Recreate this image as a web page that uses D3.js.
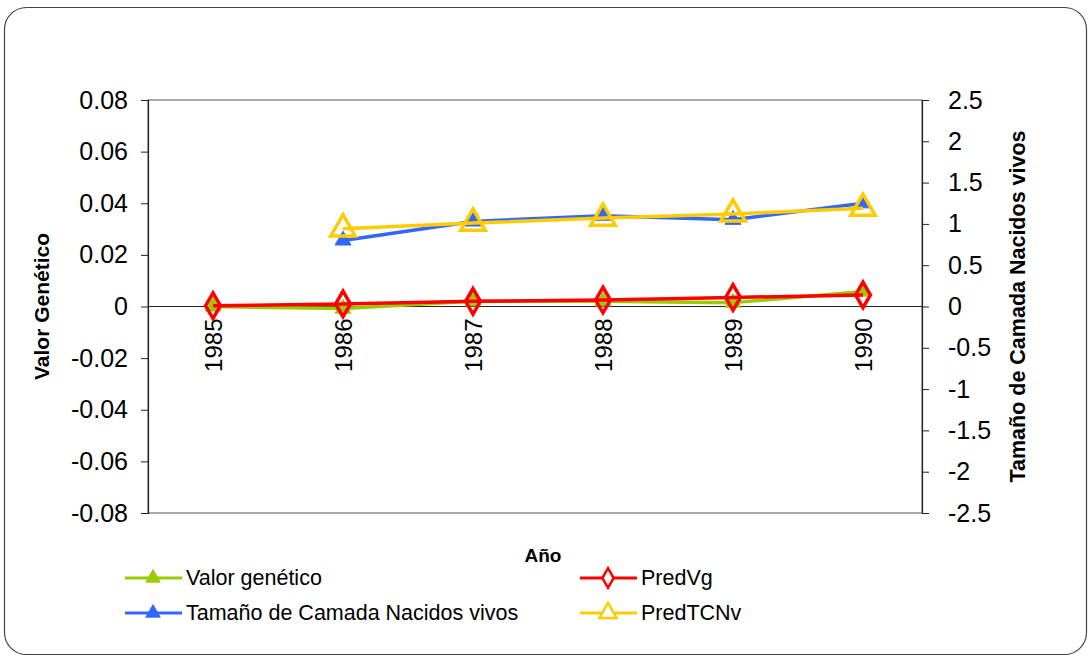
<!DOCTYPE html>
<html>
<head>
<meta charset="utf-8">
<script src="https://cdn.jsdelivr.net/npm/d3@7"></script>
<style>
  html, body { margin: 0; padding: 0; background: #fff; }
  svg { display: block; font-family: "Liberation Sans", Arial, sans-serif; }
</style>
</head>
<body>
<svg id="chart" width="1090" height="658"></svg>
<script>
// Years on the category axis
const years = ["1985", "1986", "1987", "1988", "1989", "1990"];

// Left axis series (genetic value)
const valorGenetico = [0.0000, -0.0008, 0.0020, 0.0020, 0.0015, 0.0058];
const predVg        = [0.0003, 0.0010, 0.0020, 0.0025, 0.0035, 0.0045];

// Right axis series (litter size born alive); no value for 1985
const tamanoCamada = [null, 0.80, 1.03, 1.10, 1.05, 1.25];
const predTCNv     = [null, 0.94, 1.01, 1.07, 1.12, 1.19];

// Tick labels
const leftTicks  = [-0.08, -0.06, -0.04, -0.02, 0, 0.02, 0.04, 0.06, 0.08];
const leftLabels = ["-0.08", "-0.06", "-0.04", "-0.02", "0", "0.02", "0.04", "0.06", "0.08"];
const rightTicks  = [-2.5, -2, -1.5, -1, -0.5, 0, 0.5, 1, 1.5, 2, 2.5];
const rightLabels = ["-2.5", "-2", "-1.5", "-1", "-0.5", "0", "0.5", "1", "1.5", "2", "2.5"];

const FONT = "'Liberation Sans', Arial, sans-serif";
const svg = d3.select("#chart");

// Outer rounded frame
svg.append("rect")
  .attr("x", 4.5).attr("y", 7.5)
  .attr("width", 1082).attr("height", 647)
  .attr("rx", 22).attr("ry", 22)
  .attr("fill", "#fff")
  .attr("stroke", "#444").attr("stroke-width", 1.2);

const plot = { left: 148, right: 922, top: 100, bottom: 513 };

const x = d3.scalePoint().domain(years).range([plot.left, plot.right + 6]).padding(0.5);
const yL = d3.scaleLinear().domain([-0.08, 0.08]).range([plot.bottom, plot.top]);
const yR = d3.scaleLinear().domain([-2.5, 2.5]).range([plot.bottom, plot.top]);

// Plot area border
svg.append("rect")
  .attr("x", plot.left).attr("y", plot.top)
  .attr("width", plot.right - plot.left).attr("height", plot.bottom - plot.top)
  .attr("fill", "none").attr("stroke", "#8c8c8c").attr("stroke-width", 1.5);

// Left axis
const axL = svg.append("g").attr("transform", `translate(${plot.left},0)`)
  .call(d3.axisLeft(yL).tickValues(leftTicks)
    .tickFormat((d, i) => leftLabels[i]).tickSize(7).tickPadding(13));
axL.select(".domain").attr("stroke", "#222").attr("stroke-width", 1.2);
axL.selectAll(".tick line").attr("stroke", "#222");
axL.selectAll("text").attr("font-size", 25).attr("fill", "#000")
  .attr("font-family", FONT);

// Right axis
const axR = svg.append("g").attr("transform", `translate(${plot.right},0)`)
  .call(d3.axisRight(yR).tickValues(rightTicks)
    .tickFormat((d, i) => rightLabels[i]).tickSize(7).tickPadding(19));
axR.select(".domain").attr("stroke", "#222").attr("stroke-width", 1.2);
axR.selectAll(".tick line").attr("stroke", "#222");
axR.selectAll("text").attr("font-size", 25).attr("fill", "#000")
  .attr("font-family", FONT);

// Category axis crossing at zero
svg.append("line")
  .attr("x1", plot.left).attr("x2", plot.right)
  .attr("y1", yL(0)).attr("y2", yL(0))
  .attr("stroke", "#222").attr("stroke-width", 1);

// Year labels, rotated
svg.append("g").selectAll("text").data(years).join("text")
  .attr("transform", d => `translate(${x(d) + 9},${yL(0) + 12}) rotate(-90)`)
  .attr("text-anchor", "end")
  .attr("font-size", 24)
  .text(d => d);

// Axis titles
svg.append("text")
  .attr("transform", `translate(49,${(plot.top + plot.bottom) / 2}) rotate(-90)`)
  .attr("text-anchor", "middle").attr("font-weight", "bold").attr("font-size", 21)
  .text("Valor Genético");
svg.append("text")
  .attr("transform", `translate(1025,${(plot.top + plot.bottom) / 2}) rotate(-90)`)
  .attr("text-anchor", "middle").attr("font-weight", "bold").attr("font-size", 21.5)
  .text("Tamaño de Camada Nacidos vivos");
svg.append("text")
  .attr("x", 543).attr("y", 562)
  .attr("text-anchor", "middle").attr("font-weight", "bold").attr("font-size", 19)
  .text("Año");

const tri = d3.symbol().type(d3.symbolTriangle);
const dia = d3.symbol().type(d3.symbolDiamond);

const series = [
  { name: "Valor genético", values: valorGenetico, y: yL, color: "#99cc00",
    symbol: tri.size(110)(), fill: "#99cc00", stroke: "#99cc00", sw: 1 },
  { name: "Tamaño de Camada Nacidos vivos", values: tamanoCamada, y: yR, color: "#3366ff",
    symbol: tri.size(110)(), fill: "#3366ff", stroke: "#3366ff", sw: 1 },
  { name: "PredVg", values: predVg, y: yL, color: "#ff0000",
    symbol: dia.size(190)(), fill: "none", stroke: "#ff0000", sw: 3.5 },
  { name: "PredTCNv", values: predTCNv, y: yR, color: "#ffcc00",
    symbol: tri.size(260)(), fill: "none", stroke: "#ffcc00", sw: 3.5 }
];

const line = yScale => d3.line()
  .defined(d => d.v !== null)
  .x(d => x(d.year))
  .y(d => yScale(d.v));

series.forEach(s => {
  const pts = years.map((year, i) => ({ year, v: s.values[i] }));
  svg.append("path")
    .datum(pts)
    .attr("fill", "none")
    .attr("stroke", s.color)
    .attr("stroke-width", 3.5)
    .attr("stroke-linejoin", "round")
    .attr("d", line(s.y));
  svg.append("g").selectAll("path")
    .data(pts.filter(d => d.v !== null))
    .join("path")
    .attr("transform", d => `translate(${x(d.year)},${s.y(d.v)})`)
    .attr("d", s.symbol)
    .attr("fill", s.fill)
    .attr("stroke", s.stroke)
    .attr("stroke-width", s.sw)
    .attr("stroke-linejoin", "miter");
});

// Legend
const legendPos = [
  { x: 125, y: 578 }, // Valor genético
  { x: 125, y: 613 }, // Tamaño de Camada Nacidos vivos
  { x: 580, y: 578 }, // PredVg
  { x: 580, y: 613 }  // PredTCNv
];
const legendSymbols = [
  tri.size(90)(), tri.size(90)(), dia.size(110)(), tri.size(130)()
];
series.forEach((s, i) => {
  const p = legendPos[i];
  const g = svg.append("g").attr("transform", `translate(${p.x},${p.y})`);
  g.append("line").attr("x1", 0).attr("x2", 57).attr("y1", 0).attr("y2", 0)
    .attr("stroke", s.color).attr("stroke-width", 3);
  g.append("path").attr("transform", "translate(28,0)")
    .attr("d", legendSymbols[i])
    .attr("fill", s.fill === "none" ? "#fff" : s.fill)
    .attr("stroke", s.stroke).attr("stroke-width", s.sw === 1 ? 1 : 2.5);
  g.append("text").attr("x", 61).attr("y", 7)
    .attr("font-size", 21.5).text(s.name);
});
</script>
</body>
</html>
